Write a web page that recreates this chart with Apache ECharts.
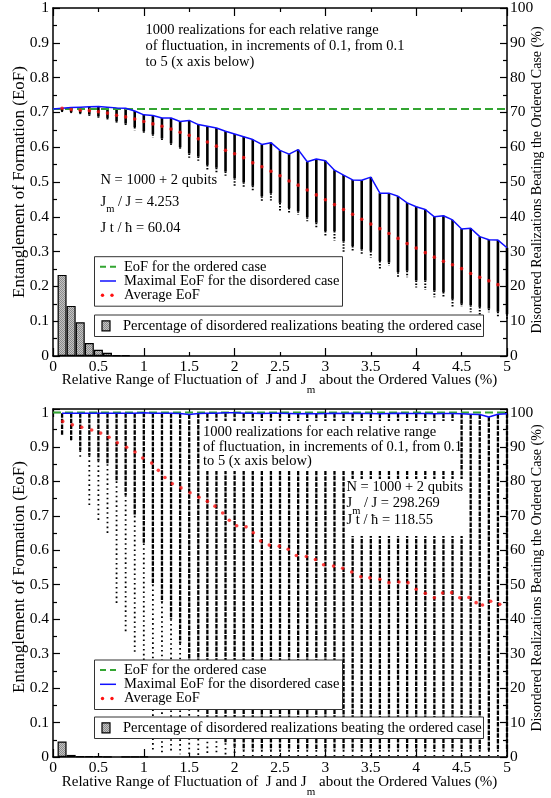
<!DOCTYPE html>
<html>
<head>
<meta charset="utf-8">
<script src="https://cdn.jsdelivr.net/npm/echarts@6.0.0/dist/echarts.min.js"></script>
<style>
  html, body { margin: 0; padding: 0; background: #fff; }
  #chart { width: 551px; height: 798px; }
</style>
</head>
<body>
<div id="chart"></div>
<script>
// Relative range of fluctuation (%), one column of realizations per value
const xs = [0.1,0.2,0.3,0.4,0.5,0.6,0.7,0.8,0.9,1.0,1.1,1.2,1.3,1.4,1.5,1.6,1.7,1.8,1.9,2.0,
            2.1,2.2,2.3,2.4,2.5,2.6,2.7,2.8,2.9,3.0,3.1,3.2,3.3,3.4,3.5,3.6,3.7,3.8,3.9,4.0,
            4.1,4.2,4.3,4.4,4.5,4.6,4.7,4.8,4.9,5.0];
const xTickLabels = [0,0.5,1,1.5,2,2.5,3,3.5,4,4.5,5];

// EoF of the ordered chain (upper panel, lower panel)
const orderedEoF = [0.710, 1.0];

// ---- Upper panel: Jm/J = 4.253 ----
const topMax = [.712,.714,.715,.716,.717,.715,.713,.712,.704,.693,
                .691,.684,.684,.674,.677,.665,.660,.655,.646,.638,
                .630,.622,.608,.613,.591,.580,.593,.558,.566,.561,
                .534,.520,.506,.505,.514,.468,.468,.459,.440,.429,
                .421,.400,.403,.391,.365,.367,.343,.334,.333,.311];
const topAvg = [.712,.708,.706,.705,.702,.698,.692,.687,.681,.674,
                .667,.660,.652,.643,.634,.624,.615,.603,.591,.581,
                .570,.555,.544,.531,.518,.503,.491,.477,.463,.449,
                .435,.421,.407,.393,.379,.366,.352,.338,.323,.310,
                .297,.284,.272,.262,.251,.237,.226,.216,.205,null];
// lower end of the dense body of each column
const topDense = [.704,.701,.698,.694,.689,.684,.675,.668,.658,.646,
                  .637,.625,.611,.600,.582,.573,.549,.541,.530,.511,
                  .499,.489,.459,.468,.440,.425,.416,.399,.383,.359,
                  .359,.330,.316,.307,.302,.273,.269,.241,.245,.217,
                  .217,.188,.184,.164,.150,.146,.141,.136,.127,.120];
// lowest realization of each column
const topMin = [.701,.698,.695,.690,.684,.677,.669,.662,.649,.639,
                .628,.620,.603,.592,.570,.561,.535,.527,.518,.487,
                .483,.473,.444,.447,.416,.411,.406,.387,.368,.342,
                .332,.297,.302,.294,.283,.250,.259,.226,.226,.197,
                .190,.169,.169,.141,.141,.126,.117,.126,.112,.105];
// % of disordered realizations beating the ordered case
const topHist = [23.3,14.4,9.7,3.7,1.8,0.9,0.2,0.2,0,0,
                 0,0,0,0,0,0,0,0,0,0, 0,0,0,0,0,0,0,0,0,0,
                 0,0,0,0,0,0,0,0,0,0, 0,0,0,0,0,0,0,0,0,0];

// ---- Lower panel: Jm/J = 298.269 ----
const botMax = [.998,.998,.998,.998,.998,.998,.998,.998,.998,.999,
                .998,.998,.998,.997,.994,.997,.998,.998,.999,.999,
                .998,.998,.997,.998,.998,.997,.996,.997,.996,.997,
                .998,.997,.998,.997,.997,.996,.997,.998,.997,.997,
                .997,.996,.997,.997,.996,.995,.994,.987,.995,.996];
const botDense = [.933,.920,.890,.875,.860,.850,.800,.760,.700,.620,
                  .500,.450,.400,.330,.250,.150,.100,.060,.040,.030,
                  .020,.020,.020,.020,.020,.020,.020,.020,.020,.020,
                  .020,.020,.020,.020,.020,.020,.020,.020,.020,.020,
                  .020,.020,.020,.020,.020,.020,.020,.020,.020,.020];
const botMin = [.933,.919,.865,.728,.687,.650,.445,.356,.305,.250,
                .020,.012,.010,.008,.006,.005,.004,.004,.003,.003,
                .003,.003,.003,.003,.003,.003,.003,.003,.003,.003,
                .003,.003,.003,.003,.003,.003,.003,.003,.003,.003,
                .003,.003,.003,.003,.003,.003,.003,.003,.003,.003];
const botAvgX = [0.107,0.213,0.316,0.426,0.525,0.617,0.708,0.811,0.903,0.988,
                 1.087,1.160,1.233,1.314,1.410,1.509,1.608,1.700,1.784,1.869,
                 1.942,2.023,2.126,2.206,2.287,2.382,2.492,2.59,2.68,2.79,
                 2.89,2.98,3.09,3.19,3.29,3.39,3.49,3.60,3.70,3.81,
                 3.91,4.00,4.10,4.20,4.29,4.39,4.48,4.58,4.66,4.73,4.82,4.92];
const botAvgY = [.974,.964,.957,.949,.940,.928,.912,.899,.885,.868,
                 .853,.832,.811,.793,.781,.767,.754,.742,.728,.708,
                 .687,.671,.668,.651,.627,.615,.612,.603,.585,.582,
                 .573,.558,.554,.548,.537,.523,.520,.516,.506,.508,
                 .506,.487,.475,.462,.476,.477,.462,.463,.448,.441,.452,.443];
const botHist = [4.5,0.6,0.2,0.2,0.2,0.1,0,0.1,0.1,0.1,
                 0,0,0,0,0,0,0,0,0,0, 0,0,0,0,0,0,0,0,0,0,
                 0,0,0,0,0,0,0,0,0,0, 0,0,0,0,0,0,0,0,0,0];

const SERIF = "'Liberation Serif','Times New Roman',serif";
const GREEN = '#33a532', BLUE = '#1010ff', RED = '#ff1010';

// grey dithered fill used by the histogram bars
function ditherPattern() {
  const c = document.createElement('canvas');
  c.width = 2; c.height = 2;
  const g = c.getContext('2d');
  g.fillStyle = '#c4c4c4'; g.fillRect(0, 0, 2, 2);
  g.fillStyle = '#8a8a8a'; g.fillRect(0, 0, 1, 1); g.fillRect(1, 1, 1, 1);
  return { image: c, repeat: 'repeat' };
}
const HIST_FILL = ditherPattern();

const mctx = document.createElement('canvas').getContext('2d');
function textWidth(t, font) { mctx.font = font; return mctx.measureText(t).width; }

// a line of text made of runs; runs with dy are drawn as subscripts
function textRun(parts, x, y, anchor, z) {
  const fonts = parts.map(p => (p.size || 14.5) + 'px ' + SERIF);
  const widths = parts.map((p, i) => textWidth(p.t, fonts[i]));
  const total = widths.reduce((a, b) => a + b, 0);
  let cx = anchor === 'center' ? x - total / 2 : x;
  return parts.map((p, i) => {
    const el = {
      type: 'text', x: cx, y: y + (p.dy || 0), z: z || 20,
      style: { text: p.t, font: fonts[i], fill: '#000', textAlign: 'left', align: 'left',
               textVerticalAlign: 'middle', verticalAlign: 'middle' }
    };
    cx += widths[i];
    return el;
  });
}

function columnsSeries(xi, yi, hi, dense, lo, look) {
  return {
    type: 'custom', xAxisIndex: xi, yAxisIndex: yi, z: 2, silent: true,
    data: xs.map((x, i) => [x, hi[i], dense[i], lo[i]]),
    encode: { x: 0, y: [1, 2, 3] },
    renderItem: function (params, api) {
      const x = api.value(0);
      const a = api.coord([x, api.value(1)]);
      const b = api.coord([x, api.value(2)]);
      const c = api.coord([x, api.value(3)]);
      return {
        type: 'group',
        children: [
          { type: 'line', shape: { x1: a[0], y1: a[1], x2: b[0], y2: b[1] },
            style: { stroke: '#000', lineWidth: look.w1, lineDash: look.dash1 } },
          { type: 'line', shape: { x1: b[0], y1: b[1], x2: c[0], y2: c[1] },
            style: { stroke: '#000', lineWidth: look.w2, lineDash: look.dash2 } }
        ]
      };
    }
  };
}

const axisLineStyle = { color: '#000', width: 1.5 };
const tickStyle = { color: '#000', width: 1.2 };
const labelFont = { color: '#000', fontFamily: SERIF, fontSize: 15.5 };

function xAxisDef(gi, pos, labels) {
  return {
    type: 'value', gridIndex: gi, position: pos, min: 0, max: 5, interval: 1,
    axisLine: { show: true, onZero: false, lineStyle: axisLineStyle },
    axisTick: { show: true, inside: true, length: 8, lineStyle: tickStyle },
    minorTick: { show: true, splitNumber: 2, length: 4, lineStyle: tickStyle },
    axisLabel: labels ? Object.assign({ show: true, margin: 3, customValues: xTickLabels,
                 formatter: v => String(+(+v).toFixed(2)) }, labelFont) : { show: false },
    splitLine: { show: false }, minorSplitLine: { show: false }
  };
}
function isStep(v, step) { const k = v / step; return Math.abs(k - Math.round(k)) < 1e-6; }
function yLeft(gi, max) {
  return {
    type: 'value', gridIndex: gi, position: 'left', min: 0, max: max, interval: 0.1,
    axisLine: { show: true, onZero: false, lineStyle: axisLineStyle },
    axisTick: { show: true, inside: true, length: 7, lineStyle: tickStyle },
    minorTick: { show: true, splitNumber: 2, length: 4, lineStyle: tickStyle },
    axisLabel: Object.assign({ margin: 4, formatter: v => isStep(v, 0.1) ? String(+(+v).toFixed(1)) : '' }, labelFont),
    splitLine: { show: false }
  };
}
function yRight(gi, max) {
  return {
    type: 'value', gridIndex: gi, position: 'right', min: 0, max: max, interval: 10,
    axisLine: { show: true, onZero: false, lineStyle: axisLineStyle },
    axisTick: { show: true, inside: true, length: 7, lineStyle: tickStyle },
    minorTick: { show: true, splitNumber: 2, length: 4, lineStyle: tickStyle },
    axisLabel: Object.assign({ margin: 3, formatter: v => isStep(v, 10) ? String(Math.round(v)) : '' }, labelFont),
    splitLine: { show: false }
  };
}

function panelSeries(xi, yl, yr, d) {
  return [
    columnsSeries(xi, yl, d.max, d.dense, d.min, d.look),
    { type: 'bar', xAxisIndex: xi, yAxisIndex: yr, z: 3, barWidth: 9, silent: true,
      data: xs.map((x, i) => [x, d.hist[i]]).filter(p => p[1] > 0),
      itemStyle: { color: HIST_FILL, borderColor: '#000', borderWidth: 1.2 } },
    { type: 'line', xAxisIndex: xi, yAxisIndex: yl, z: 4, symbol: 'none', silent: true,
      data: [[0, d.ordered], [5, d.ordered]],
      lineStyle: { color: GREEN, width: 2, type: [8, 4] } },
    { type: 'line', xAxisIndex: xi, yAxisIndex: yl, z: 5, symbol: 'none', silent: true,
      data: d.maxLine, lineStyle: { color: BLUE, width: 1.5 } },
    { type: 'scatter', xAxisIndex: xi, yAxisIndex: yl, z: 6, silent: true,
      symbol: 'circle', symbolSize: 3.6, data: d.avg,
      itemStyle: { color: RED } }
  ];
}

const topData = {
  max: topMax, dense: topDense, min: topMin, hist: topHist, ordered: orderedEoF[0],
  maxLine: [[0, orderedEoF[0]]].concat(xs.map((x, i) => [x, topMax[i]])),
  avg: xs.map((x, i) => [x, topAvg[i]]).filter(p => p[1] !== null),
  look: { w1: 2.6, dash1: null, w2: 2, dash2: [1.5, 1.5] }
};
const botData = {
  max: botMax, dense: botDense, min: botMin, hist: botHist, ordered: orderedEoF[1],
  maxLine: xs.map((x, i) => [x, botMax[i]]),
  avg: botAvgX.map((x, i) => [x, botAvgY[i]]),
  look: { w1: 2.3, dash1: [4.5, 1.2], w2: 1.8, dash2: [1.6, 3.2] }
};

// ---- text and legends ----
const graphics = [];
function box(x, y, w, h, stroke) {
  graphics.push({ type: 'rect', z: 15, shape: { x: x, y: y, width: w, height: h },
    style: { fill: '#fff', stroke: stroke ? '#333' : null, lineWidth: 1 } });
}
function push(arr) { arr.forEach(e => graphics.push(e)); }

function legend(top1, top2) {
  box(94.5, top1, 248, 49.5, true);
  const l1 = top1 + 10, l2 = top1 + 24.3, l3 = top1 + 38.5;
  graphics.push({ type: 'line', z: 20, shape: { x1: 100, y1: l1, x2: 116, y2: l1 },
    style: { stroke: GREEN, lineWidth: 2, lineDash: [6, 4] } });
  graphics.push({ type: 'line', z: 20, shape: { x1: 100, y1: l2, x2: 116, y2: l2 },
    style: { stroke: BLUE, lineWidth: 1.5 } });
  graphics.push({ type: 'circle', z: 20, shape: { cx: 102.5, cy: l3, r: 1.7 }, style: { fill: RED } });
  graphics.push({ type: 'circle', z: 20, shape: { cx: 112, cy: l3, r: 1.7 }, style: { fill: RED } });
  push(textRun([{ t: 'EoF for the ordered case' }], 124, l1, 'left'));
  push(textRun([{ t: 'Maximal EoF for the disordered case' }], 124, l2, 'left'));
  push(textRun([{ t: 'Average EoF' }], 124, l3, 'left'));
  box(94.5, top2, 389, 21.5, true);
  graphics.push({ type: 'rect', z: 20, shape: { x: 102, y: top2 + 5.8, width: 8, height: 10 },
    style: { fill: HIST_FILL, stroke: '#000', lineWidth: 1.2 } });
  push(textRun([{ t: 'Percentage of disordered realizations beating the ordered case' }], 123, top2 + 10.8, 'left'));
}

function panelText(o) {
  // rotated axis titles
  graphics.push({ type: 'text', z: 20, x: 20, y: o.leftY, rotation: Math.PI / 2,
    style: { text: 'Entanglement of Formation (EoF)', font: '17px ' + SERIF, fill: '#000',
             textAlign: 'center', align: 'center', textVerticalAlign: 'middle', verticalAlign: 'middle' } });
  graphics.push({ type: 'text', z: 20, x: 537, y: o.rightY, rotation: Math.PI / 2,
    style: { text: 'Disordered Realizations Beating the Ordered Case (%)', font: '14px ' + SERIF, fill: '#000',
             textAlign: 'center', align: 'center', textVerticalAlign: 'middle', verticalAlign: 'middle' } });
  push(textRun([{ t: 'Relative Range of Fluctuation of  J and J', size: 15 },
                { t: 'm', size: 11, dy: 10 },
                { t: ' about the Ordered Values (%)', size: 15 }], 279.5, o.titleY, 'center'));
  // realization note
  if (o.noteBox) box(o.noteBox[0], o.noteBox[1], o.noteBox[2], o.noteBox[3], false);
  o.note.forEach((t, i) => push(textRun([{ t: t }], o.noteX, o.noteY[i], 'left')));
  // chain parameters
  if (o.parBox) box(o.parBox[0], o.parBox[1], o.parBox[2], o.parBox[3], false);
  push(textRun([{ t: 'N = 1000 + 2 qubits' }], o.parX, o.parY[0], 'left'));
  push(textRun([{ t: 'J' }, { t: 'm', size: 10.5, dy: 7.5 }, { t: ' / J = ' + o.ratio }], o.parX, o.parY[1], 'left'));
  push(textRun([{ t: 'J t / \u0127 = ' + o.time }], o.parX, o.parY[2], 'left'));
  legend(o.leg1, o.leg2);
}

const noteLines = ['1000 realizations for each relative range',
                   'of fluctuation, in increments of 0.1, from 0.1',
                   'to 5 (x axis below)'];

panelText({ leftY: 182, rightY: 180, titleY: 380,
            note: noteLines, noteX: 145.5, noteY: [30, 45.7, 61.7],
            parX: 100.5, parY: [180, 202, 228.3], ratio: '4.253', time: '60.04',
            leg1: 256.7, leg2: 315 });
panelText({ leftY: 577, rightY: 578, titleY: 782,
            note: noteLines, noteX: 203, noteY: [431.7, 446.7, 461], noteBox: [201, 421, 259, 50],
            parX: 346.5, parY: [486.7, 503.3, 520], parBox: [345, 479, 121, 57],
            ratio: '298.269', time: '118.55',
            leg1: 660, leg2: 717 });

const chart = echarts.init(document.getElementById('chart'), null, { renderer: 'canvas' });
chart.setOption({
  animation: false,
  backgroundColor: '#fff',
  grid: [
    { left: 53, top: 5, width: 454, height: 351 },
    { left: 53, top: 409, width: 454, height: 348 }
  ],
  xAxis: [xAxisDef(0, 'bottom', true), xAxisDef(0, 'top', false),
          xAxisDef(1, 'bottom', true), xAxisDef(1, 'top', false)],
  yAxis: [yLeft(0, 1), yRight(0, 100), yLeft(1, 1.01), yRight(1, 101)],
  series: panelSeries(0, 0, 1, topData).concat(panelSeries(2, 2, 3, botData)),
  graphic: { elements: graphics }
});
</script>
</body>
</html>
